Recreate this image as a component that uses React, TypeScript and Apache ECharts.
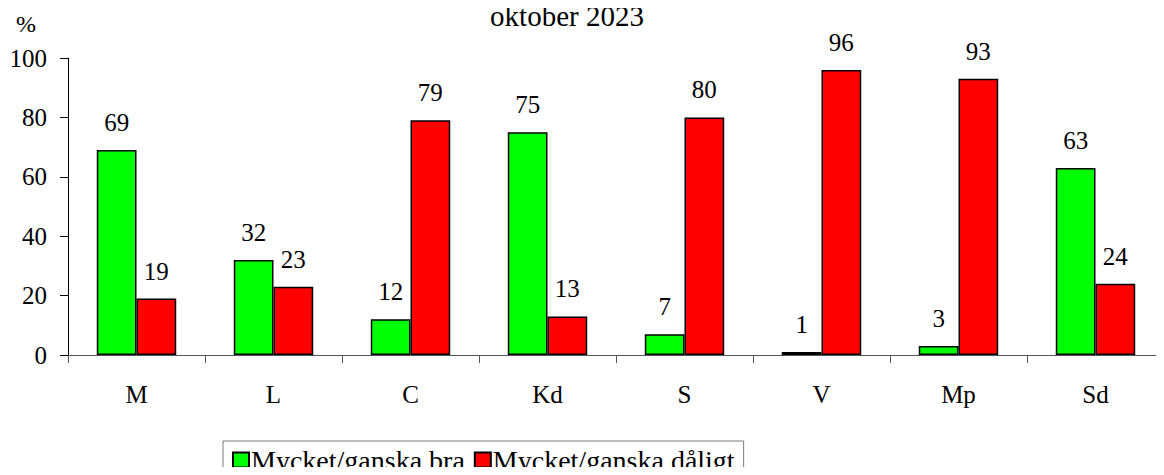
import React, { useEffect, useRef } from "react";
import * as echarts from "echarts";

const categories = ["M", "L", "C", "Kd", "S", "V", "Mp", "Sd"];
const goodValues = [69, 32, 12, 75, 7, 1, 3, 63];
const badValues = [19, 23, 79, 13, 80, 96, 93, 24];
const seriesNames = ["Mycket/ganska bra", "Mycket/ganska dåligt"];
const titleText = "oktober 2023";
const unitText = "%";

const FONT = "Liberation Serif";

export default function App() {
  const ref = useRef<HTMLDivElement>(null);
  useEffect(() => {
    if (!ref.current) return;
    const chart = echarts.init(ref.current, undefined, { renderer: "svg" });
    const labelCfg = {
      show: true,
      position: "top",
      distance: 15,
      color: "#000",
      fontFamily: FONT,
      fontSize: 25,
      fontWeight: "normal",
    };
    chart.setOption({
      animation: false,
      textStyle: { fontFamily: FONT, fontSize: 25 },
      grid: { left: 68, right: -11, top: 58, bottom: 120, containLabel: false },
      graphic: [
        {
          type: "text",
          x: 567,
          y: 1,
          style: {
            text: titleText,
            fontFamily: FONT,
            fontSize: 29,
            fill: "#000",
            textAlign: "center",
            textVerticalAlign: "top",
          },
        },
        {
          type: "text",
          x: 16,
          y: 12,
          style: {
            text: unitText,
            fontFamily: FONT,
            fontSize: 24,
            fill: "#000",
            textVerticalAlign: "top",
          },
        },
      ],
      legend: {
        left: 223,
        top: 441,
        itemGap: 9,
        itemWidth: 16,
        itemHeight: 15,
        padding: [5, 9, 5, 9],
        borderColor: "#777",
        borderWidth: 1,
        icon: "rect",
        textStyle: { fontFamily: FONT, fontSize: 28, color: "#000", padding: [0, 0, 0, -3] },
        data: seriesNames,
      },
      xAxis: {
        type: "category",
        data: categories,
        axisLine: { lineStyle: { color: "#555", width: 1 } },
        axisTick: { show: true, length: 8, alignWithLabel: false, lineStyle: { color: "#555" } },
        axisLabel: { fontFamily: FONT, fontSize: 25, color: "#000", margin: 27 },
      },
      yAxis: {
        type: "value",
        min: 0,
        max: 100,
        interval: 20,
        splitLine: { show: false },
        axisLine: { show: true, lineStyle: { color: "#000", width: 1 } },
        axisTick: { show: true, length: 8, lineStyle: { color: "#000" } },
        axisLabel: { fontFamily: FONT, fontSize: 25, color: "#000", margin: 21 },
      },
      series: [
        {
          name: seriesNames[0],
          type: "bar",
          data: goodValues,
          barGap: "0%",
          barCategoryGap: "42%",
          itemStyle: { color: "#00ff00", borderColor: "#000", borderWidth: 1.5 },
          label: labelCfg,
        },
        {
          name: seriesNames[1],
          type: "bar",
          data: badValues,
          itemStyle: { color: "#ff0000", borderColor: "#000", borderWidth: 1.5 },
          label: labelCfg,
        },
      ],
    });
    return () => chart.dispose();
  }, []);
  return <div ref={ref} style={{ width: 1164, height: 475, margin: -8 }} />;
}
